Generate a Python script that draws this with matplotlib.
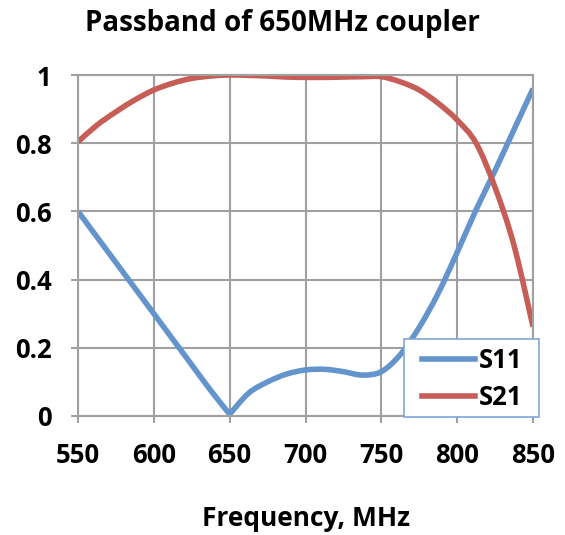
import matplotlib
matplotlib.use("Agg")
import matplotlib.pyplot as plt
from matplotlib.path import Path
from matplotlib.patches import PathPatch, Rectangle
from matplotlib.lines import Line2D

# data
freq = [550, 562.5, 575, 587.5, 600, 612.5, 625, 637.5, 650, 662.5, 675, 687.5,
        700, 712.5, 725, 737.5, 750, 762.5, 775, 787.5, 800, 812.5, 825, 837.5,
        850]
s11 = [0.60, 0.525, 0.45, 0.375, 0.30, 0.225, 0.15, 0.075, 0.005, 0.067, 0.10,
       0.123, 0.135, 0.137, 0.13, 0.12, 0.13, 0.18, 0.26, 0.36, 0.48, 0.605,
       0.72, 0.84, 0.96]
s21 = [0.804, 0.853, 0.892, 0.927, 0.956, 0.976, 0.99, 0.997, 1.0, 0.999, 0.997,
       0.994, 0.993, 0.993, 0.994, 0.995, 0.995, 0.98, 0.956, 0.917, 0.868, 0.80,
       0.67, 0.50, 0.262]
xticks = [550, 600, 650, 700, 750, 800, 850]
yticks = [0, 0.2, 0.4, 0.6, 0.8, 1]
ytick_labels = ["0", "0.2", "0.4", "0.6", "0.8", "1"]

plt.rcParams["font.family"] = ["Open Sans", "DejaVu Sans"]
plt.rcParams["font.weight"] = "bold"

grid_col = "#a0a0a0"
blue = "#6394cc"
red = "#c65d57"
fs = 18.5
lw = 4.0


def smooth_path(xs, ys, t=1 / 6):
    # excel-like smoothed line: cubic bezier through the points
    verts = [(xs[0], ys[0])]
    codes = [Path.MOVETO]
    n = len(xs)
    for i in range(n - 1):
        x0, y0 = (xs[i - 1], ys[i - 1]) if i > 0 else (xs[i], ys[i])
        x1, y1 = xs[i], ys[i]
        x2, y2 = xs[i + 1], ys[i + 1]
        x3, y3 = (xs[i + 2], ys[i + 2]) if i + 2 < n else (x2, y2)
        c1 = (x1 + (x2 - x0) * t, y1 + (y2 - y0) * t)
        c2 = (x2 - (x3 - x1) * t, y2 - (y3 - y1) * t)
        verts += [c1, c2, (x2, y2)]
        codes += [Path.CURVE4] * 3
    return Path(verts, codes)


fig = plt.figure(figsize=(5.65, 5.35), dpi=100)
ax = fig.add_axes([78 / 565, 1 - 416 / 535, 455 / 565, 341 / 535])

# S11 has a sharp dip at 650 MHz, smooth both sides separately
k = freq.index(650)
for xs, ys in [(freq[:k + 1], s11[:k + 1]), (freq[k:], s11[k:])]:
    ax.add_patch(PathPatch(smooth_path(xs, ys), fill=False, edgecolor=blue,
                           lw=lw, capstyle="butt", joinstyle="round"))
ax.add_patch(PathPatch(smooth_path(freq, s21), fill=False, edgecolor=red,
                       lw=lw, capstyle="butt", joinstyle="round"))

ax.set_xlim(550, 850)
ax.set_ylim(0, 1)
ax.set_xticks(xticks)
ax.set_yticks(yticks)
ax.set_yticklabels(ytick_labels)
ax.grid(True, color=grid_col, lw=1.5)
ax.set_axisbelow(True)
for sp in ax.spines.values():
    sp.set_color(grid_col)
    sp.set_linewidth(1.5)
ax.tick_params(direction="out", length=5, width=1.5, color=grid_col,
               labelsize=fs, pad=14)
for lab in ax.get_xticklabels() + ax.get_yticklabels():
    lab.set_fontweight("bold")

ax.set_xlabel("Frequency, MHz", fontsize=19, fontweight="bold", labelpad=26)
fig.text(0.5, 1 - 23 / 535, "Passband of 650MHz coupler", ha="center",
         va="center", fontsize=20, fontweight="bold")

# legend box
fig.patches.append(Rectangle((404 / 565, 1 - 417 / 535), 135 / 565, 78 / 535,
                             transform=fig.transFigure, facecolor="white",
                             edgecolor="#7fa6d6", lw=1.2, zorder=5))
handles = [Line2D([], [], color=blue, lw=lw), Line2D([], [], color=red, lw=lw)]
leg = fig.legend(handles, ["S11", "S21"], loc="center left",
                 bbox_to_anchor=(422 / 565, 1 - 379 / 535), fontsize=fs,
                 frameon=False, handlelength=2.05, handletextpad=0.15,
                 labelspacing=0.42, borderpad=0, borderaxespad=0)
leg.set_zorder(6)
for t in leg.get_texts():
    t.set_fontweight("bold")

fig.savefig("out.png", dpi=100)
